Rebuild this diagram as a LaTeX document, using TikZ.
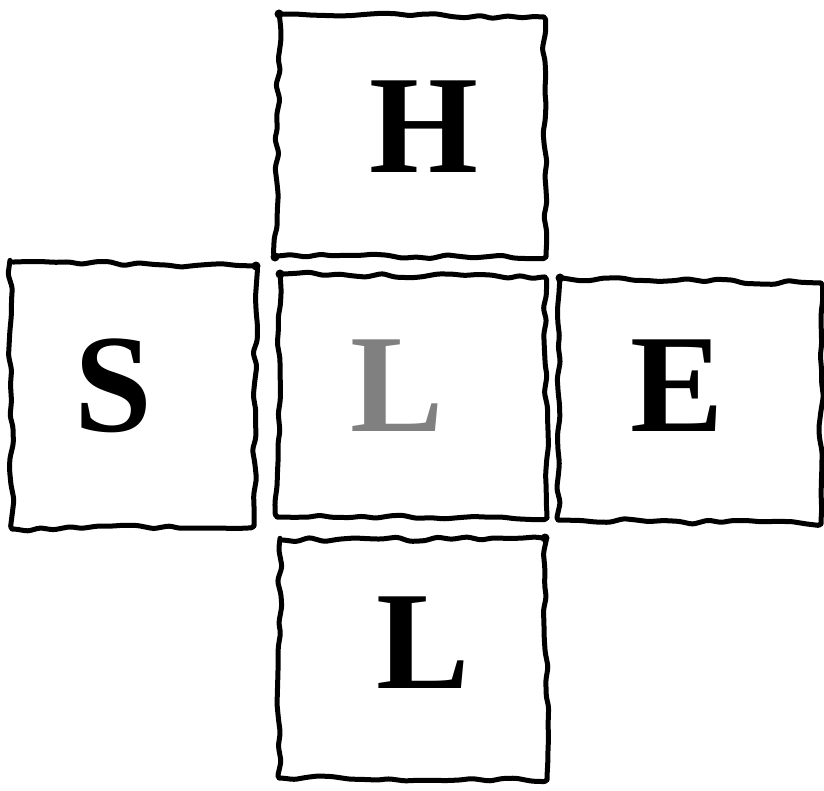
\documentclass[tikz,border=0pt]{standalone}
\usepackage{fontspec}
\setmainfont{Liberation Serif}[BoldFont={Liberation Serif Bold}]
\usetikzlibrary{decorations.pathmorphing}
\begin{document}
\begin{tikzpicture}[x=1pt,y=-1pt,
  tile/.style={draw=black,line width=5pt,line join=round,line cap=round,
    decorate,decoration={random steps,segment length=14pt,amplitude=2.4pt},rounded corners=3pt},
  letter/.style={anchor=base,inner sep=0pt,font=\fontsize{140}{140}\selectfont\bfseries},
  dot/.style={fill=black,circle,inner sep=0pt,minimum size=9pt}]
\useasboundingbox (0,0) rectangle (824,790);
\pgfmathsetseed{11}
% tiles
\draw[tile] (279,14) -- (544,17) -- (546,257) -- (275,256) -- cycle;
\draw[tile] (10,262) -- (256,266) -- (254,526) -- (12,529) -- cycle;
\draw[tile] (280,274) -- (545,277) -- (547,518) -- (277,517) -- cycle;
\draw[tile] (560,278) -- (821,283) -- (821,524) -- (558,520) -- cycle;
\draw[tile] (280,540) -- (545,538) -- (547,780) -- (279,778) -- cycle;
% corner dots
\node[dot] (d1) at (279,14) {};
\node[dot] (d2) at (275,257) {};
\node[dot] (d3) at (256,266) {};
\node[dot] (d4) at (280,274) {};
\node[dot] (d5) at (560,278) {};
\node[dot] (d6) at (545,538) {};
% letters
\node[letter] (H) at (424,172) {H};
\node[letter] (S) at (113,431) {S};
\node[letter,text=gray] (Lc) at (397,431) {L};
\node[letter] (E) at (677,431) {E};
\node[letter] (Lb) at (423,688) {L};
\end{tikzpicture}
\end{document}
